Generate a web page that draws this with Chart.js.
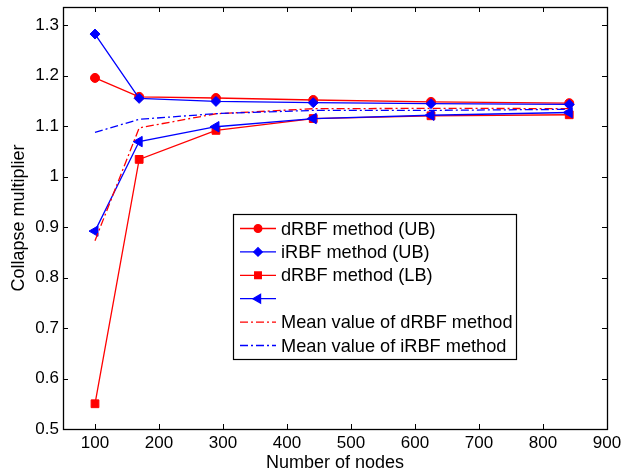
<!DOCTYPE html>
<html>
<head>
<meta charset="utf-8">
<title>Collapse multiplier</title>
<script src="https://cdn.jsdelivr.net/npm/chart.js@4/dist/chart.umd.min.js"></script>
<style>
    body { margin: 0; background: #fff; }
    #wrap { width: 624px; height: 474px; }
</style>
</head>
<body>
<div id="wrap"><canvas id="myChart" width="624" height="474"></canvas></div>
<script>
// data
const nodes = [100, 169, 289, 441, 625, 841];
const drbfUB = [1.1955, 1.158, 1.1557, 1.1518, 1.148, 1.1455];
const irbfUB = [1.2824, 1.155, 1.149, 1.1465, 1.1445, 1.143];
const drbfLB = [0.55, 1.0341, 1.0916, 1.115, 1.1205, 1.1225];
const irbfLB = [0.892, 1.0694, 1.0988, 1.115, 1.1216, 1.127];
const drbfMean = [0.873, 1.0965, 1.1245, 1.1345, 1.1352, 1.1347];
const irbfMean = [1.0875, 1.1135, 1.1248, 1.1312, 1.1312, 1.1333];
const xTicks = [100, 200, 300, 400, 500, 600, 700, 800, 900];
const yTicks = [0.5, 0.6, 0.7, 0.8, 0.9, 1, 1.1, 1.2, 1.3];

const FONT = '"Liberation Sans", Arial, sans-serif';
const RED = '#ff0000';
const BLUE = '#0000ff';

const pts = function(ys) {
    return nodes.map(function(x, i) { return { x: x, y: ys[i] }; });
};

const series = [
    { label: 'dRBF method (UB)', data: drbfUB, color: RED, style: 'circle', radius: 4.5, rot: 0, dash: [] },
    { label: 'iRBF method (UB)', data: irbfUB, color: BLUE, style: 'rectRot', radius: 5, rot: 0, dash: [] },
    { label: 'dRBF method (LB)', data: drbfLB, color: RED, style: 'rect', radius: 5.5, rot: 0, dash: [] },
    { label: '', data: irbfLB, color: BLUE, style: 'triangle', radius: 6, rot: -90, dash: [] },
    { label: 'Mean value of dRBF method', data: drbfMean, color: RED, style: false, radius: 0, rot: 0, dash: [8, 3, 2, 3] },
    { label: 'Mean value of iRBF method', data: irbfMean, color: BLUE, style: false, radius: 0, rot: 0, dash: [8, 3, 2, 3] }
];

// box, inward ticks on all sides and the legend inside the plot
const matlabAxes = {
    id: 'matlabAxes',
    afterDraw: function(chart) {
        const ctx = chart.ctx;
        const a = chart.chartArea;
        const xs = chart.scales.x;
        const ys = chart.scales.y;
        const t = 5;

        ctx.save();
        ctx.strokeStyle = '#000';
        ctx.lineWidth = 1;
        ctx.beginPath();
        xTicks.forEach(function(v) {
            const px = Math.round(xs.getPixelForValue(v)) + 0.5;
            ctx.moveTo(px, a.bottom); ctx.lineTo(px, a.bottom - t);
            ctx.moveTo(px, a.top); ctx.lineTo(px, a.top + t);
        });
        yTicks.forEach(function(v) {
            const py = Math.round(ys.getPixelForValue(v)) + 0.5;
            ctx.moveTo(a.left, py); ctx.lineTo(a.left + t, py);
            ctx.moveTo(a.right, py); ctx.lineTo(a.right - t, py);
        });
        ctx.stroke();
        ctx.lineWidth = 1.3;
        ctx.strokeRect(Math.round(a.left) + 0.5, Math.round(a.top) + 0.5,
            Math.round(a.right - a.left), Math.round(a.bottom - a.top));

        // legend
        const lx = 233, ly = 214, lw = 283, lh = 145;
        ctx.fillStyle = '#fff';
        ctx.fillRect(lx, ly, lw, lh);
        ctx.lineWidth = 1.2;
        ctx.strokeStyle = '#000';
        ctx.strokeRect(lx + 0.5, ly + 0.5, lw, lh);

        ctx.font = '18.2px ' + FONT;
        ctx.textBaseline = 'middle';
        series.forEach(function(s, i) {
            const cy = 228.5 + i * 23.4;
            ctx.strokeStyle = s.color;
            ctx.fillStyle = s.color;
            ctx.lineWidth = 1.3;
            ctx.setLineDash(s.dash);
            ctx.beginPath();
            ctx.moveTo(240, cy);
            ctx.lineTo(276, cy);
            ctx.stroke();
            ctx.setLineDash([]);
            if (s.style) {
                Chart.helpers.drawPoint(ctx, {
                    pointStyle: s.style,
                    radius: s.radius * 0.85,
                    rotation: s.rot,
                    borderWidth: 1
                }, 258, cy);
            }
            ctx.fillStyle = '#000';
            ctx.fillText(s.label, 281, cy + 1);
        });
        ctx.restore();
    }
};

const App = (function() {

    const chart = function() {
        const ctx = document.getElementById('myChart');

        new Chart(ctx, {
            type: 'scatter',
            data: {
                datasets: series.map(function(s, i) {
                    return {
                        label: s.label,
                        data: pts(s.data),
                        showLine: true,
                        borderColor: s.color,
                        backgroundColor: s.color,
                        borderWidth: 1.3,
                        borderDash: s.dash,
                        pointStyle: s.style || 'circle',
                        pointRadius: s.radius,
                        pointRotation: s.rot,
                        pointBorderWidth: 1,
                        order: series.length - i
                    };
                })
            },
            options: {
                responsive: false,
                animation: false,
                layout: { padding: { top: -3, right: 17, left: 0, bottom: 0 } },
                plugins: {
                    legend: { display: false },
                    tooltip: { enabled: false }
                },
                scales: {
                    x: {
                        type: 'linear',
                        min: 50,
                        max: 900,
                        grid: { display: false, drawTicks: false },
                        border: { display: false },
                        afterBuildTicks: function(scale) {
                            scale.ticks = xTicks.map(function(v) { return { value: v }; });
                        },
                        afterFit: function(scale) {
                            scale.height = 45;
                            scale.paddingLeft = 0;
                            scale.paddingRight = 0;
                        },
                        ticks: {
                            padding: 4,
                            maxRotation: 0,
                            color: '#000',
                            font: { family: FONT, size: 17 }
                        },
                        title: {
                            display: true,
                            text: 'Number of nodes',
                            color: '#000',
                            padding: { top: 0, bottom: 0 },
                            font: { family: FONT, size: 18 }
                        }
                    },
                    y: {
                        min: 0.5,
                        max: 1.336,
                        grid: { display: false, drawTicks: false },
                        border: { display: false },
                        afterBuildTicks: function(scale) {
                            scale.ticks = yTicks.map(function(v) { return { value: v }; });
                        },
                        afterFit: function(scale) {
                            scale.width = 63;
                            scale.paddingTop = 0;
                            scale.paddingBottom = 0;
                        },
                        ticks: {
                            padding: 4,
                            color: '#000',
                            font: { family: FONT, size: 17 },
                            callback: function(v) { return String(v); }
                        },
                        title: {
                            display: true,
                            text: 'Collapse multiplier',
                            color: '#000',
                            padding: { top: 8, bottom: 0 },
                            font: { family: FONT, size: 18 }
                        }
                    }
                }
            },
            plugins: [matlabAxes]
        });
    };

    const init = function() {
        chart();
    };

    return {
        init: init
    };

})();

App.init();
</script>
</body>
</html>
